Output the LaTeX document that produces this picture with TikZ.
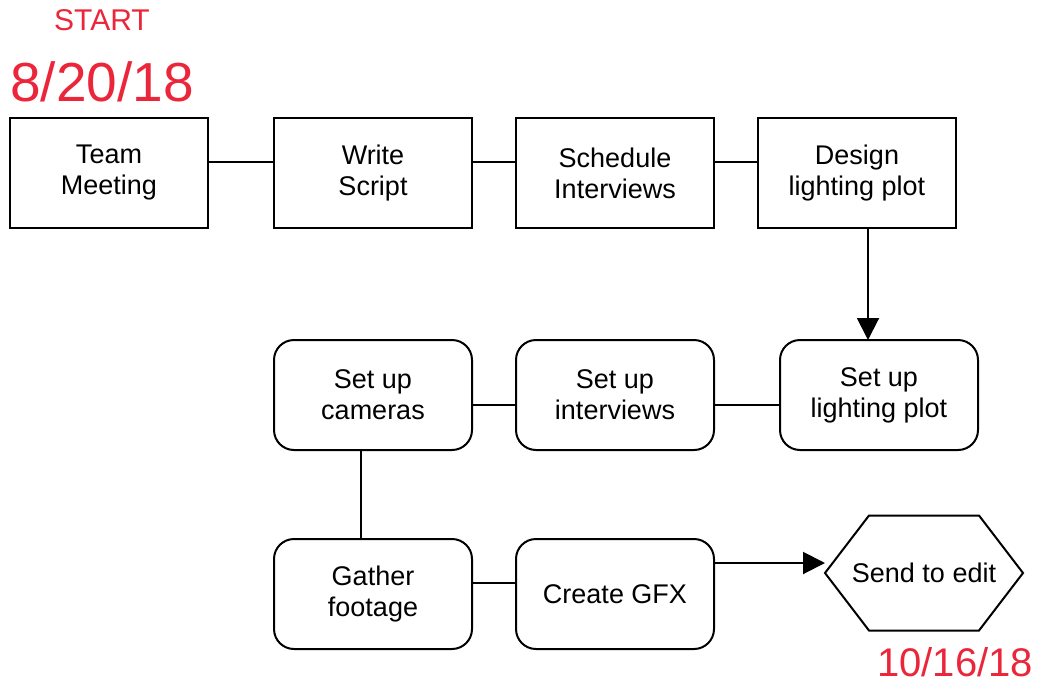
\documentclass[tikz,border=0pt]{standalone}
\usepackage{fontspec}
\setmainfont{Liberation Sans}
\usetikzlibrary{positioning,arrows.meta,calc}
\definecolor{penred}{RGB}{236,38,58}
\tikzset{task node/.style={rectangle,draw,line width=2pt,outer sep=0pt,minimum width=198pt,minimum height=110pt,inner sep=0pt,align=center,font=\fontsize{27}{31}\selectfont},
round node/.style={task node,rounded corners=20pt},
pen note/.style={text=penred,inner sep=0pt},
}

\begin{document}
\begin{tikzpicture}[x=1pt,y=1pt,node distance=44pt,line width=2pt,>={Triangle[width=22pt,length=22pt]}]
	\useasboundingbox (0,0) rectangle (1038,-688);
	\node[task node] (meet) at (109,-173) {Team\\Meeting};
	\node[task node] (script)[right = 66pt of meet]{Write\\Script};
	\node[task node] (sched)[right = of script]{Schedule\\Interviews};
	\node[task node] (design)[right = of sched]{Design\\lighting plot};
	
	\node[round node] (cams)[below = 112pt of script]{Set up\\cameras};
	\node[round node] (inter)[right = of cams]{Set up\\interviews};
	\node[round node] (light)[right = 66pt of inter]{Set up\\lighting plot};
	
	\node[round node] (gather)[below = 89pt of cams]{Gather\\footage};
	\node[round node] (gfx)[right = of gather]{Create GFX};
	\node[minimum width=198pt,minimum height=115pt,inner sep=0pt,outer sep=0pt,font=\fontsize{27}{31}\selectfont] (send)[right = 111pt of gfx, yshift=21pt]{Send to edit};
	\draw (send.west) -- ([xshift=44pt]send.north west) -- ([xshift=-44pt]send.north east) -- (send.east)
	-- ([xshift=-44pt]send.south east) -- ([xshift=44pt]send.south west) -- cycle;
	
	% dates
	\node[pen note,font=\fontsize{30}{30}\selectfont] (start) at (102,-20){START};
	\node[pen note,font=\fontsize{55}{55}\selectfont] (begin) at (102,-82){8/20/18};
	\node[pen note,font=\fontsize{40}{40}\selectfont] (end) at (955,-662){10/16/18};
	
	\draw ([yshift=11pt]meet.east) -- ([yshift=11pt]script.west);
	\draw ([yshift=11pt]script.east) -- ([yshift=11pt]sched.west);
	\draw ([yshift=11pt]sched.east) -- ([yshift=11pt]design.west);
	\coordinate (mid) at ($(design.south)!0.5!(light.north)$);
	\draw[->] (mid |- design.south) -- (mid |- light.north);
	\draw ([yshift=-10pt]light.west) -- ([yshift=-10pt]inter.east);
	\draw ([yshift=-10pt]inter.west) -- ([yshift=-10pt]cams.east);
	\draw ([xshift=-12pt]cams.south) -- ([xshift=-12pt]gather.north);
	\draw ([yshift=11pt]gather.east) -- ([yshift=11pt]gfx.west);
	\draw[->] ([yshift=31pt]gfx.east) -- ([yshift=10pt]send.west);
\end{tikzpicture}
\end{document}
